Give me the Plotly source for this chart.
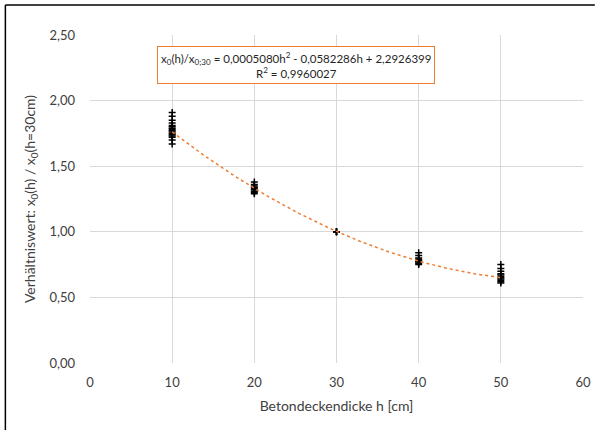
import numpy as np
import plotly.graph_objects as go

# Data
h_10 = [1.67, 1.70, 1.72, 1.73, 1.74, 1.75, 1.76, 1.77, 1.78, 1.79, 1.80, 1.81, 1.83, 1.85, 1.88, 1.91]
h_20 = [1.29, 1.30, 1.31, 1.32, 1.33, 1.34, 1.35, 1.36, 1.38]
h_30 = [1.00, 1.00, 1.00, 1.00]
h_40 = [0.75, 0.76, 0.77, 0.775, 0.78, 0.79, 0.80, 0.82, 0.84]
h_50 = [0.61, 0.62, 0.63, 0.64, 0.65, 0.66, 0.67, 0.68, 0.70, 0.72, 0.75]
thickness = [10, 20, 30, 40, 50]
groups = [h_10, h_20, h_30, h_40, h_50]

# Trendline coefficients as given in the chart (a*h^2 + b*h + c)
trend_coeffs = [0.0005080, -0.0582286, 2.2926399]
r_squared = "0,9960027"

x_vals, y_vals = [], []
for h, g in zip(thickness, groups):
    x_vals += [h] * len(g)
    y_vals += g

xt = np.linspace(10, 50, 200)
yt = np.polyval(trend_coeffs, xt)

fig = go.Figure()
fig.add_trace(go.Scatter(x=x_vals, y=y_vals, mode="markers",
                         marker=dict(symbol="cross-thin", size=5, color="black",
                                     line=dict(color="black", width=1.5)),
                         showlegend=False))
fig.add_trace(go.Scatter(x=xt, y=yt, mode="lines",
                         line=dict(color="#ED7D31", width=1.5, dash="dot"),
                         hoverinfo="skip", showlegend=False))

font_family = "Lato, 'Open Sans', sans-serif"
W, H = 603, 430
ml, mr, mt, mb = 90, 12, 35, 67
pw, ph = W - ml - mr, H - mt - mb

def px(xp):
    return (xp - ml) / pw

def py(yp):
    return (H - mb - yp) / ph

fig.update_layout(
    width=W, height=H,
    margin=dict(l=ml, r=mr, t=mt, b=mb),
    paper_bgcolor="white", plot_bgcolor="white",
    separators=",.",
    font=dict(family=font_family, size=13, color="#404040"),
    xaxis=dict(range=[0, 60], dtick=10, tick0=0, showgrid=True, gridcolor="#d9d9d9",
               gridwidth=1, zeroline=False, showline=False, ticks="",
               ticklabelstandoff=10,
               title=dict(text="Betondeckendicke h [cm]", standoff=12,
                          font=dict(size=14, color="#404040")),
               tickfont=dict(size=13, color="#404040")),
    yaxis=dict(range=[0, 2.5], dtick=0.5, tick0=0, tickformat=".2f", showgrid=True,
               gridcolor="#d9d9d9", gridwidth=1, zeroline=False, showline=False,
               ticks="", ticklabelstandoff=14,
               title=dict(text="Verhältniswert: x<sub>0</sub>(h) / x<sub>0</sub>(h=30cm)",
                          standoff=10, font=dict(size=14, color="#404040")),
               tickfont=dict(size=13, color="#404040")),
    shapes=[
        dict(type="line", xref="paper", yref="paper", x0=px(4), x1=px(4), y0=py(430), y1=py(5),
             line=dict(color="black", width=1.5)),
        dict(type="line", xref="paper", yref="paper", x0=px(4), x1=px(603), y0=py(5), y1=py(5),
             line=dict(color="black", width=1.5)),
    ],
    annotations=[
        dict(xref="paper", yref="paper", x=px(299), y=py(64.5), xanchor="center", yanchor="middle",
             text="x<sub>0</sub>(h)/x<sub>0;30</sub> = 0,0005080h<sup>2</sup> - 0,0582286h + 2,2926399"
                  "<br>R<sup>2</sup> = " + r_squared,
             showarrow=False, align="center", bgcolor="white", bordercolor="#ED7D31",
             borderwidth=1, borderpad=3, font=dict(size=11.5, color="#262626")),
    ],
)

fig.write_html("out.html")
